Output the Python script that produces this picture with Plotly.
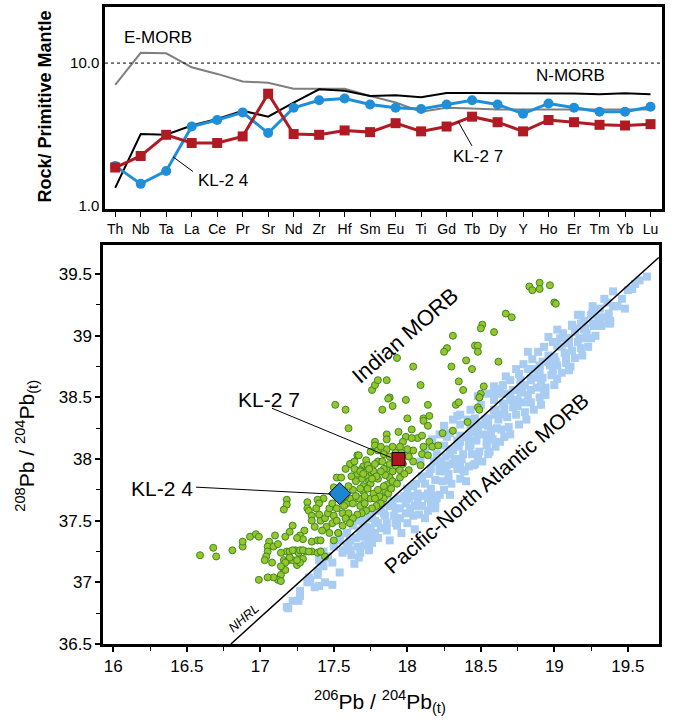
import plotly.graph_objects as go

W, H = 674, 722
FONT = "Liberation Sans, Arial, Helvetica, sans-serif"

# ---------------- Top panel data (Rock / Primitive Mantle) ----------------
elements = ["Th", "Nb", "Ta", "La", "Ce", "Pr", "Sr", "Nd", "Zr", "Hf", "Sm",
            "Eu", "Ti", "Gd", "Tb", "Dy", "Y", "Ho", "Er", "Tm", "Yb", "Lu"]
e_morb = [7.05, 11.8, 11.7, 9.34, 8.4, 7.43, 7.28, 6.62, 6.62, 6.62, 5.89,
          5.3, 4.57, 4.87, 4.82, 4.74, 4.74, 4.75, 4.74, 4.74, 4.74, 4.74]
n_morb = [1.34, 3.19, 3.15, 3.66, 4.06, 4.64, 4.22, 5.3, 6.55, 6.4, 5.89,
          5.95, 5.77, 6.18, 6.18, 6.18, 6.12, 6.12, 6.12, 6.05, 6.15, 6.05]
kl24 = [1.91, 1.43, 1.76, 3.6, 4.0, 4.52, 3.24, 4.87, 5.5, 5.65, 5.13,
        4.87, 4.77, 5.13, 5.5, 5.13, 4.43, 5.22, 4.87, 4.57, 4.57, 4.95]
kl27 = [1.86, 2.24, 3.15, 2.76, 2.76, 3.07, 6.11, 3.19, 3.15, 3.38, 3.29,
        3.8, 3.33, 3.6, 4.22, 3.86, 3.33, 4.0, 3.86, 3.7, 3.66, 3.74]

# ---------------- Bottom panel data (Pb isotopes) ----------------
indian_upper = [
    (18.83, 39.40), (18.85, 39.37), (18.90, 39.43), (18.90, 39.38), (18.97, 39.41),
    (19.00, 39.27), (19.01, 39.26), (18.67, 39.18), (18.71, 39.15), (18.51, 39.09),
    (18.50, 39.06), (18.59, 39.03), (18.31, 39.00), (18.46, 38.92), (18.48, 38.92),
    (18.48, 38.87), (18.27, 38.90), (18.25, 38.87), (17.93, 38.82), (18.04, 38.75),
    (18.40, 38.80), (18.44, 38.73), (18.30, 38.75), (18.62, 38.79), (17.76, 38.56),
    (17.78, 38.60), (17.80, 38.64), (17.86, 38.64), (18.09, 38.60), (18.35, 38.63),
    (18.38, 38.56), (18.52, 38.59), (18.50, 38.53), (18.49, 38.50), (17.88, 38.50),
    (17.90, 38.43), (17.99, 38.48), (17.83, 38.40), (18.14, 38.44), (18.33, 38.44),
    (18.35, 38.46), (18.49, 38.50), (18.48, 38.42), (18.49, 38.40), (17.51, 38.44),
    (17.58, 38.40), (17.60, 38.25), (17.87, 38.49), (18.00, 38.33), (18.11, 38.33),
    (18.15, 38.35), (18.14, 38.27), (18.11, 38.31), (18.41, 38.30), (17.86, 38.20),
    (17.94, 38.22), (17.99, 38.18), (18.03, 38.24), (18.07, 38.17), (18.10, 38.19),
    (18.03, 38.17), (17.97, 38.14), (18.15, 38.14), (18.17, 38.10), (18.24, 38.21),
    (18.31, 38.23), (18.21, 38.11), (18.11, 38.10), (17.78, 38.14), (17.78, 38.11),
    (17.86, 38.16),
]
indian_core = [
    (17.66, 38.03), (17.67, 38.03), (17.61, 37.96), (17.72, 37.99), (17.75, 38.06),
    (17.80, 38.07), (17.70, 37.94), (17.73, 37.94), (17.80, 37.98), (17.86, 38.08),
    (17.68, 37.91), (18.10, 38.04), (18.14, 38.03), (18.04, 38.07), (18.01, 38.02),
    (18.04, 37.98), (18.09, 37.95), (17.84, 38.04), (17.83, 37.98), (17.86, 37.92),
    (17.90, 37.90), (17.95, 37.91), (18.01, 37.91), (17.97, 37.96), (17.88, 37.85),
    (17.90, 37.82), (17.86, 37.79), (17.85, 37.74), (17.87, 37.72), (17.84, 37.68),
    (17.95, 37.85), (17.93, 37.80), (17.98, 37.88), (17.72, 37.86), (17.76, 37.88),
    (17.69, 37.84), (17.66, 37.88), (17.64, 37.92), (17.70, 37.78), (17.74, 37.82),
    (17.81, 37.70), (17.82, 37.64), (17.79, 37.62), (17.76, 37.60), (17.72, 37.58),
    (17.69, 37.56), (17.66, 37.55), (17.63, 37.52), (17.89, 37.76), (17.52, 37.85),
    (17.55, 37.85), (17.50, 37.77), (17.43, 37.68), (17.39, 37.67), (17.40, 37.64),
    (17.18, 37.67), (17.18, 37.63), (17.16, 37.59), (17.32, 37.65), (17.32, 37.60),
    (17.33, 37.58), (17.35, 37.54), (17.35, 37.50), (17.37, 37.45), (17.41, 37.50),
    (17.44, 37.52), (17.46, 37.56), (17.47, 37.60), (17.49, 37.64), (17.52, 37.60),
    (17.50, 37.54), (17.49, 37.48), (17.52, 37.50), (17.56, 37.56), (17.59, 37.64),
    (17.61, 37.68), (17.63, 37.75), (17.65, 37.82), (17.68, 37.90), (17.73, 37.95),
    (17.77, 37.90), (17.80, 37.84), (17.75, 37.80), (17.70, 37.74), (17.67, 37.68),
    (17.63, 37.64), (17.60, 37.56), (17.58, 37.52), (17.61, 37.48), (17.56, 37.46),
    (17.53, 37.40), (17.68, 37.62), (17.71, 37.64), (17.75, 37.68), (17.77, 37.72),
    (17.80, 37.75), (17.84, 37.78), (17.85, 37.87), (17.84, 37.92), (17.78, 37.68),
    (17.73, 37.76), (17.58, 37.70), (17.60, 37.78), (17.62, 37.86), (17.57, 37.62),
    (17.55, 37.68), (17.65, 37.70), (17.68, 37.76), (17.71, 37.70), (17.74, 37.92),
    (17.78, 37.96), (17.82, 37.90), (17.79, 37.86), (17.76, 37.84), (17.70, 37.88),
    (17.88, 37.96), (17.92, 37.95), (17.92, 38.05), (17.96, 38.05), (17.88, 38.02),
    (17.82, 38.10), (17.90, 38.10), (17.95, 38.10), (18.00, 38.08), (17.64, 37.98),
    (17.58, 37.92), (17.45, 37.45), (17.42, 37.42), (17.47, 37.40), (17.40, 37.55),
    (17.38, 37.60), (17.30, 37.42),
]
indian_lower = [
    (16.59, 37.22), (16.68, 37.28), (16.70, 37.21), (16.81, 37.26), (16.88, 37.29),
    (16.88, 37.33), (16.93, 37.37), (16.97, 37.39), (16.99, 37.37), (17.06, 37.33),
    (17.05, 37.29), (17.09, 37.29), (17.05, 37.25), (17.04, 37.21), (17.03, 37.18),
    (17.08, 37.16), (17.10, 37.38), (17.17, 37.37), (17.20, 37.41), (17.22, 37.46),
    (17.27, 37.38), (17.29, 37.35), (17.35, 37.33), (17.39, 37.34), (17.18, 37.25),
    (17.20, 37.25), (17.24, 37.26), (17.26, 37.24), (17.31, 37.25), (17.35, 37.25),
    (17.16, 37.18), (17.19, 37.18), (17.22, 37.18), (17.26, 37.18), (17.29, 37.19),
    (17.15, 37.12), (17.17, 37.10), (17.14, 37.06), (17.12, 37.02), (17.14, 37.01),
    (17.09, 37.04), (17.05, 37.04), (16.99, 37.02), (17.25, 37.14), (17.27, 37.16),
    (17.41, 37.34), (17.44, 37.21), (17.39, 37.24), (17.50, 37.34), (17.53, 37.40),
    (17.25, 37.36), (17.22, 37.26), (17.27, 37.26), (17.29, 37.26), (17.33, 37.25),
    (17.41, 37.25), (17.20, 37.20), (17.25, 37.18), (17.17, 37.16), (17.14, 37.13),
    (17.12, 37.31), (17.14, 37.24),
]
pacific_band = [
    (19.63, 39.48), (19.50, 39.37), (19.53, 39.38), (19.43, 39.24), (19.40, 39.24),
    (19.36, 39.27), (19.31, 39.22), (19.35, 39.15), (19.37, 39.10), (19.30, 39.10),
    (19.26, 39.19), (19.27, 39.21), (19.25, 39.17), (19.18, 39.17), (19.16, 39.17),
    (19.12, 39.09), (19.18, 39.10), (19.26, 39.10), (19.31, 39.10), (19.38, 39.10),
    (19.12, 39.08), (19.02, 39.05), (19.06, 39.02), (19.14, 39.03), (19.21, 39.06),
    (19.22, 39.02), (19.25, 38.98), (19.23, 38.91), (19.16, 38.95), (19.10, 38.98),
    (19.04, 38.98), (18.96, 38.99), (18.99, 38.95), (19.05, 38.91), (18.93, 38.91),
    (18.89, 38.87), (18.82, 38.87), (18.85, 38.81), (18.92, 38.79), (18.96, 38.79),
    (19.01, 38.79), (19.08, 38.83), (19.11, 38.75), (18.99, 38.71), (19.02, 38.65),
    (18.79, 38.77), (18.74, 38.73), (18.76, 38.69), (18.82, 38.73), (18.87, 38.73),
    (18.89, 38.69), (18.67, 38.67), (18.70, 38.64), (18.77, 38.64), (18.84, 38.64),
    (18.91, 38.63), (18.93, 38.56), (18.94, 38.52), (18.65, 38.60), (18.59, 38.59),
    (18.60, 38.53), (18.65, 38.53), (18.72, 38.56), (18.78, 38.55), (18.84, 38.56),
    (18.75, 38.48), (18.77, 38.60), (18.63, 38.57), (18.68, 38.53), (18.93, 38.53),
    (18.55, 38.53), (18.59, 38.48), (18.65, 38.45), (18.71, 38.48), (18.48, 38.51),
    (18.50, 38.44), (18.59, 38.40), (18.75, 38.43), (18.60, 38.36), (18.65, 38.36),
    (18.43, 38.40), (18.46, 38.33), (18.53, 38.32), (18.36, 38.36), (18.31, 38.32),
    (18.36, 38.28), (18.43, 38.27), (18.55, 38.27), (18.61, 38.25), (18.25, 38.27),
    (18.22, 38.20), (18.29, 38.21), (18.36, 38.19), (18.48, 38.20), (18.57, 38.19),
    (18.63, 38.14), (18.17, 38.16), (18.16, 38.11), (18.25, 38.11), (18.34, 38.11),
    (18.43, 38.11), (18.54, 38.11), (18.12, 38.06), (18.20, 38.04), (18.29, 38.04),
    (18.38, 38.04), (18.48, 38.03), (18.55, 38.04), (18.09, 37.98), (18.18, 37.98),
    (18.27, 37.95), (18.36, 37.95), (18.45, 37.95), (18.38, 37.91), (18.34, 38.35),
    (18.41, 38.32), (18.27, 38.18), (18.34, 38.15), (18.42, 38.14), (18.31, 38.07),
    (18.48, 38.00), (18.42, 37.94), (18.31, 37.96), (18.26, 37.90), (18.22, 37.92),
    (18.19, 37.83), (18.28, 37.83), (18.36, 37.84), (18.16, 37.76), (18.25, 37.75),
    (18.09, 37.70), (18.20, 37.68), (18.29, 37.71), (18.01, 37.68),
]
pacific_lower = [
    (17.70, 37.42), (17.73, 37.36), (17.76, 37.34), (17.71, 37.30), (17.78, 37.40),
    (17.82, 37.44), (17.86, 37.48), (17.93, 37.46), (18.00, 37.48), (17.99, 37.56),
    (17.91, 37.54), (17.85, 37.54), (17.95, 37.60), (18.02, 37.60), (18.04, 37.54),
    (18.07, 37.66), (18.14, 37.68), (18.19, 37.64), (18.22, 37.71), (18.14, 37.58),
    (18.05, 37.43), (17.86, 37.71), (17.83, 37.64), (17.77, 37.58), (17.71, 37.52),
    (17.66, 37.50), (17.63, 37.46), (17.68, 37.42), (17.75, 37.44), (17.80, 37.48),
    (17.59, 37.40), (17.54, 37.34), (17.50, 37.29), (17.61, 37.34), (17.70, 37.37),
    (17.73, 37.30), (17.66, 37.29), (17.61, 37.26), (17.56, 37.24), (17.46, 37.20),
    (17.42, 37.18), (17.43, 37.13), (17.68, 37.24), (17.54, 37.37), (17.50, 37.32),
    (17.43, 37.25), (17.46, 37.21), (17.56, 37.26), (17.49, 37.16), (17.41, 37.16),
    (17.39, 37.06), (17.54, 37.08), (17.49, 36.98), (17.44, 37.00), (17.40, 36.97),
    (17.37, 36.96), (17.33, 37.04), (17.32, 37.00), (17.27, 36.89), (17.26, 36.85),
    (17.22, 36.85), (17.19, 36.79), (17.76, 37.32), (17.75, 37.41), (17.59, 37.29),
    (17.40, 37.18), (17.39, 37.09), (17.34, 37.02), (17.27, 36.93), (17.18, 36.80),
    (17.90, 37.66), (17.92, 37.60), (17.95, 37.52), (18.00, 37.76), (18.02, 37.70),
    (18.05, 37.62), (18.08, 37.55), (18.10, 37.86), (18.12, 37.80), (18.14, 37.72),
    (18.16, 37.64), (18.20, 37.98), (18.22, 37.90), (18.24, 37.82), (18.30, 38.08),
    (18.32, 38.00), (18.34, 37.92), (18.40, 38.18), (18.42, 38.10), (18.44, 38.04),
    (18.46, 37.96), (18.50, 38.28), (18.52, 38.20), (18.54, 38.14), (18.56, 38.06),
    (18.60, 38.40), (18.62, 38.32), (18.64, 38.24), (18.66, 38.18), (18.70, 38.50),
    (18.72, 38.42), (18.74, 38.36), (18.76, 38.28), (18.80, 38.60), (18.82, 38.52),
    (18.84, 38.46), (18.86, 38.40), (18.90, 38.72), (18.92, 38.66), (18.94, 38.58),
    (19.00, 38.83), (19.02, 38.76), (19.05, 38.70), (19.10, 38.94), (19.12, 38.88),
    (19.14, 38.82), (19.20, 39.05), (19.22, 38.98), (19.30, 39.15), (19.32, 39.08),
    (19.42, 39.24),
]
pacific_fill = [
    (17.60, 37.30), (17.62, 37.22), (17.64, 37.15), (17.65, 37.36), (17.67, 37.20),
    (17.72, 37.45), (17.74, 37.26), (17.78, 37.50), (17.80, 37.36), (17.84, 37.56),
    (17.86, 37.42), (17.88, 37.34), (17.92, 37.48), (17.96, 37.40), (17.98, 37.70),
    (17.99, 37.64), (18.06, 37.80), (18.07, 37.72), (18.10, 37.62), (18.12, 37.52),
    (18.15, 37.88), (18.17, 37.70), (18.19, 37.60), (18.26, 38.02), (18.28, 37.88),
    (18.30, 37.80), (18.35, 38.10), (18.37, 38.00), (18.39, 37.90), (18.40, 37.82),
    (18.45, 38.22), (18.47, 38.15), (18.49, 38.06), (18.51, 37.98), (18.55, 38.33),
    (18.57, 38.24), (18.58, 38.16), (18.60, 38.10), (18.66, 38.44), (18.68, 38.34),
    (18.69, 38.26), (18.70, 38.20), (18.77, 38.54), (18.79, 38.46), (18.80, 38.38),
    (18.81, 38.32), (18.87, 38.66), (18.88, 38.58), (18.90, 38.50), (18.91, 38.44),
    (18.97, 38.76), (18.98, 38.68), (19.00, 38.60), (19.07, 38.86), (19.08, 38.78),
    (19.10, 38.72), (19.17, 38.98), (19.18, 38.90), (19.19, 38.84), (19.27, 39.08),
    (19.28, 39.00), (19.37, 39.18), (19.38, 39.12), (19.46, 39.30), (19.48, 39.22),
    (17.70, 37.48), (17.76, 37.52), (17.82, 37.58), (17.88, 37.62), (17.94, 37.68),
    (18.04, 37.78), (18.10, 37.84), (18.16, 37.92), (18.23, 37.98), (18.29, 38.06),
    (18.36, 38.14), (18.42, 38.20), (18.48, 38.26), (18.54, 38.30), (18.60, 38.38),
    (18.66, 38.40), (18.72, 38.48), (18.78, 38.58), (18.84, 38.66), (18.90, 38.76),
    (18.96, 38.84), (19.02, 38.92), (19.08, 38.98), (19.14, 39.06), (19.20, 39.12),
    (19.26, 39.24), (19.34, 39.30), (19.40, 39.36), (19.55, 39.42), (19.58, 39.45),
]
kl24_pb = (17.54, 37.72)
kl27_pb = (17.94, 38.00)
nhrl_x = [16.80, 19.71]
nhrl_y = [36.50, 39.635]

indian = indian_upper + indian_core + indian_lower
pacific = pacific_band + pacific_lower + pacific_fill


def px(x):
    return x / W


def py(y):
    return 1 - y / H


fig = go.Figure()

# ---- top panel traces ----
fig.add_trace(go.Scatter(x=elements, y=e_morb, mode="lines",
                         line=dict(color="#7f7f7f", width=2), xaxis="x", yaxis="y"))
fig.add_trace(go.Scatter(x=elements, y=n_morb, mode="lines",
                         line=dict(color="black", width=2), xaxis="x", yaxis="y"))
fig.add_trace(go.Scatter(x=elements, y=kl24, mode="lines+markers",
                         line=dict(color="#1e8fd8", width=3),
                         marker=dict(symbol="circle", size=10, color="#1e8fd8"),
                         xaxis="x", yaxis="y"))
fig.add_trace(go.Scatter(x=elements, y=kl27, mode="lines+markers",
                         line=dict(color="#b01a22", width=3),
                         marker=dict(symbol="square", size=10, color="#b01a22"),
                         xaxis="x", yaxis="y"))

# ---- bottom panel traces ----
fig.add_trace(go.Scatter(x=[p[0] for p in pacific], y=[p[1] for p in pacific],
                         mode="markers",
                         marker=dict(symbol="square", size=8, color="#a9cdf2"),
                         xaxis="x2", yaxis="y2"))
fig.add_trace(go.Scatter(x=[p[0] for p in indian], y=[p[1] for p in indian],
                         mode="markers",
                         marker=dict(symbol="circle", size=7, color="#98c52c",
                                     line=dict(color="#3a8a22", width=1)),
                         xaxis="x2", yaxis="y2"))
fig.add_trace(go.Scatter(x=nhrl_x, y=nhrl_y, mode="lines",
                         line=dict(color="black", width=1.5),
                         xaxis="x2", yaxis="y2"))
fig.add_trace(go.Scatter(x=[kl27_pb[0]], y=[kl27_pb[1]], mode="markers",
                         marker=dict(symbol="square", size=13, color="#b0151e",
                                     line=dict(color="black", width=1)),
                         xaxis="x2", yaxis="y2"))
fig.add_trace(go.Scatter(x=[kl24_pb[0]], y=[kl24_pb[1]], mode="markers",
                         marker=dict(symbol="diamond", size=17, color="#1c86d4",
                                     line=dict(color="black", width=1)),
                         xaxis="x2", yaxis="y2"))

top_x = [px(105), px(662)]
top_y = [py(212), py(7)]
bot_x = [px(103), px(659)]
bot_y = [py(653), py(248)]

fig.update_layout(
    width=W, height=H,
    margin=dict(l=0, r=0, t=0, b=0),
    paper_bgcolor="white", plot_bgcolor="white",
    showlegend=False,
    font=dict(family=FONT, color="black"),
    xaxis=dict(domain=top_x, anchor="y", type="category", range=[-0.4, 21.45],
               showline=True, linecolor="black", linewidth=2.5, mirror=True,
               ticks="outside", ticklen=5, tickwidth=1, tickcolor="black",
               showgrid=False, zeroline=False, tickfont=dict(size=14)),
    yaxis=dict(domain=top_y, anchor="x", type="log", range=[-0.021, 1.393],
               tickvals=[1, 10], ticktext=["1.0", "10.0"], ticks="",
               showline=True, linecolor="black", linewidth=2.5, mirror=True,
               showgrid=False, zeroline=False, tickfont=dict(size=15)),
    xaxis2=dict(domain=bot_x, anchor="y2", range=[15.93, 19.712],
                tick0=16, dtick=0.5, ticks="outside", ticklen=5, tickwidth=1.5,
                tickcolor="black",
                minor=dict(tick0=16, dtick=0.25, ticks="outside", ticklen=4,
                           tickcolor="black", tickwidth=1),
                showline=True, linecolor="black", linewidth=2.5, mirror=True,
                showgrid=False, zeroline=False, tickfont=dict(size=17)),
    yaxis2=dict(domain=bot_y, anchor="x2", range=[36.5, 39.74],
                tick0=36.5, dtick=0.5, ticks="outside", ticklen=5, tickwidth=1.5,
                tickcolor="black",
                minor=dict(tick0=36.5, dtick=0.25, ticks="outside", ticklen=4,
                           tickcolor="black", tickwidth=1),
                showline=True, linecolor="black", linewidth=2.5, mirror=True,
                showgrid=False, zeroline=False, tickfont=dict(size=17)),
)

# dotted reference line at 10 in top panel
fig.add_shape(type="line", xref="paper", yref="y", x0=top_x[0], x1=top_x[1],
              y0=10, y1=10, line=dict(color="black", width=1, dash="dot"))

# leader lines
leaders = [
    ((173, 159), (193, 174)),   # top KL-2 4
    ((458, 123), (472, 148)),   # top KL-2 7
    ((272, 414), (391, 464)),   # bottom KL-2 7
    ((196, 494), (331, 501)),   # bottom KL-2 4
]
for (x0, y0), (x1, y1) in leaders:
    fig.add_shape(type="line", xref="paper", yref="paper",
                  x0=px(x0), y0=py(y0), x1=px(x1), y1=py(y1),
                  line=dict(color="black", width=1))


def label(text, x, y, size, angle=0, bold=False, italic=False):
    t = text
    if bold:
        t = "<b>" + t + "</b>"
    if italic:
        t = "<i>" + t + "</i>"
    fig.add_annotation(text=t, xref="paper", yref="paper", x=px(x), y=py(y),
                       xanchor="center", yanchor="middle", showarrow=False,
                       textangle=angle, font=dict(size=size, family=FONT, color="black"))


label("E-MORB", 158, 38, 17)
label("N-MORB", 570, 77, 17)
label("KL-2 4", 223, 183, 17)
label("KL-2 7", 478, 159, 17)
label("Rock/ Primitive Mantle", 45, 108, 18, angle=-90, bold=True)

label("Indian MORB", 405, 340, 22, angle=-41)
label("Pacific-North Atlantic MORB", 486, 490, 21, angle=-41)
label("NHRL", 243, 627, 13, angle=-41, italic=True)
label("KL-2 7", 269, 405, 21)
label("KL-2 4", 162, 495, 21)
label("<sup>206</sup>Pb / <sup>204</sup>Pb<sub>(t)</sub>", 380, 711, 21)
label("<sup>208</sup>Pb / <sup>204</sup>Pb<sub>(t)</sub>", 27, 452, 21, angle=-90)

fig.write_html("out.html")
